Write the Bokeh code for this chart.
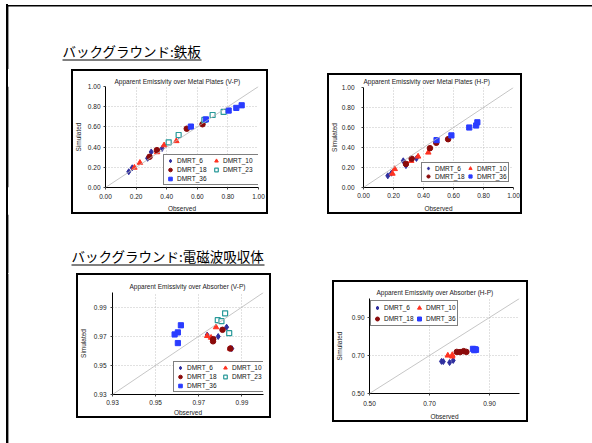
from bokeh.plotting import figure
from bokeh.layouts import row, column
from bokeh.models import (Range1d, FixedTicker, PrintfTickFormatter, Slope, Spacer,
                          Legend, LegendItem)
from bokeh.core.properties import value
from bokeh.embed import file_html
from bokeh.resources import INLINE

LATIN_FONT = "Liberation Sans"
CJK_FONT = "Noto Sans CJK JP"

heading_metal = "バックグラウンド:鉄板"
heading_absorber = "バックグラウンド:電磁波吸収体"

# ---------------- Metal plates, V-P ----------------
mvp_obs_6 = [0.152, 0.175, 0.275, 0.299, 0.370, 0.478]
mvp_sim_6 = [0.156, 0.195, 0.289, 0.352, 0.387, 0.516]
mvp_obs_10 = [0.189, 0.225, 0.337, 0.383, 0.463]
mvp_sim_10 = [0.197, 0.245, 0.350, 0.418, 0.460]
mvp_obs_18 = [0.288, 0.336, 0.531, 0.634]
mvp_sim_18 = [0.304, 0.370, 0.582, 0.626]
mvp_obs_23 = [0.413, 0.478, 0.646, 0.700, 0.772]
mvp_sim_23 = [0.447, 0.520, 0.669, 0.718, 0.748]
mvp_obs_36 = [0.558, 0.656, 0.805, 0.855, 0.890]
mvp_sim_36 = [0.603, 0.674, 0.762, 0.788, 0.814]

# ---------------- Metal plates, H-P ----------------
mhp_obs_6 = [0.162, 0.186, 0.265, 0.283, 0.353]
mhp_sim_6 = [0.117, 0.143, 0.267, 0.219, 0.291]
mhp_obs_10 = [0.193, 0.208, 0.318, 0.364, 0.432]
mhp_sim_10 = [0.139, 0.185, 0.267, 0.310, 0.350]
mhp_obs_18 = [0.283, 0.321, 0.443, 0.485, 0.564]
mhp_sim_18 = [0.236, 0.288, 0.393, 0.447, 0.483]
mhp_obs_36 = [0.487, 0.586, 0.705, 0.751, 0.759]
mhp_sim_36 = [0.474, 0.521, 0.600, 0.620, 0.652]

# ---------------- Absorber, V-P ----------------
avp_obs_6 = [0.9739, 0.9790, 0.9829, 0.9853]
avp_sim_6 = [0.9708, 0.9698, 0.9762, 0.9615]
avp_obs_10 = [0.9739, 0.9757, 0.9780, 0.9846]
avp_sim_10 = [0.9702, 0.9690, 0.9762, 0.9615]
avp_obs_18 = [0.9767, 0.9766, 0.9810, 0.9846]
avp_sim_18 = [0.9680, 0.9665, 0.9744, 0.9615]
avp_obs_23 = [0.9822, 0.9788, 0.9805, 0.9841]
avp_sim_23 = [0.9857, 0.9810, 0.9803, 0.9721]
avp_obs_36 = [0.9617, 0.9603, 0.9588, 0.9603]
avp_sim_36 = [0.9775, 0.9726, 0.9712, 0.9653]

# ---------------- Absorber, H-P ----------------
ahp_obs_6 = [0.740, 0.746, 0.767, 0.779]
ahp_sim_6 = [0.669, 0.668, 0.663, 0.674]
ahp_obs_10 = [0.761, 0.776, 0.776]
ahp_sim_10 = [0.700, 0.695, 0.703]
ahp_obs_18 = [0.791, 0.802, 0.814, 0.823]
ahp_sim_18 = [0.719, 0.718, 0.723, 0.719]
ahp_obs_36 = [0.845, 0.852, 0.849, 0.855]
ahp_sim_36 = [0.735, 0.733, 0.728, 0.730]

metal_ticks = [0.0, 0.2, 0.4, 0.6, 0.8, 1.0]
absorber_vp_ticks = [0.93, 0.95, 0.97, 0.99]
absorber_hp_ticks = [0.50, 0.70, 0.90]

SERIES_STYLE = {
    "DMRT_6": dict(marker="diamond", size=6, fill_color="#2f2f9f", line_color="#2f2f9f"),
    "DMRT_10": dict(marker="triangle", size=5.5, fill_color="#ff3322", line_color="#ff3322"),
    "DMRT_18": dict(marker="circle", size=5.5, fill_color="#8b0a0a", line_color="#8b0a0a"),
    "DMRT_23": dict(marker="square", size=5, fill_color="#ffffff", line_color="#2a9a9a",
                    line_width=1.2),
    "DMRT_36": dict(marker="square", size=5.2, fill_color="#2a3cff", line_color="#2a3cff"),
}

RULE_LEFT, RULE_RIGHT = 6.4, 7.9

# slide frame: a left rule painted behind the transparent figures
PAGE_STYLES = {
    "background-image": "linear-gradient(to right, transparent 6.4px, #000 6.4px, "
                        "#000 7.9px, transparent 7.9px)",
    "background-repeat": "no-repeat",
    "background-position": "0px 4.4px",
    "background-size": "100% 440px",
}


def blank(width, height):
    p = figure(width=width, height=height, x_range=Range1d(0, width),
               y_range=Range1d(height, 0), x_axis_type=None, y_axis_type=None,
               min_border=0, toolbar_location=None, output_backend="svg",
               outline_line_color=None, background_fill_color=None,
               border_fill_color=None)
    return p


def side_rule(width, height, top=0.0):
    p = blank(width, height)
    p.quad(left=[RULE_LEFT], right=[RULE_RIGHT], top=[top], bottom=[height],
           fill_color="black", line_color=None)
    return p


def heading_band(width, height, text, tx, ty, ux1, uy, top_rule=False):
    p = side_rule(width, height, top=4.4 if top_rule else 0.0)
    if top_rule:
        p.quad(left=[RULE_LEFT], right=[width], top=[4.4], bottom=[6.0],
               fill_color="black", line_color=None)
    p.text(x=[tx], y=[ty], text=[text], text_font=value(CJK_FONT), text_font_size="13.5px",
           text_color="black", text_baseline="alphabetic", text_align="left")
    p.segment(x0=[tx], y0=[uy], x1=[ux1], y1=[uy], line_color="black", line_width=1)
    return p


def chart(title, series, rng, ticks, width, height, borders, title_pos, x_std, y_std,
          legend_cfg):
    left, right, top, bottom = borders
    p = figure(width=width, height=height, x_range=Range1d(*rng), y_range=Range1d(*rng),
               toolbar_location=None, output_backend="svg",
               min_border_left=left, min_border_right=right,
               min_border_top=top, min_border_bottom=bottom,
               background_fill_color=None, border_fill_color=None,
               outline_line_color=None, title=title,
               styles={"outline": "2px solid black", "outline-offset": "-2px"})
    p.title.text_font = LATIN_FONT
    p.title.text_font_size = "6.5px"
    p.title.text_font_style = "normal"
    p.title.text_color = "#222222"
    p.title.align = "left"
    p.title.offset = title_pos[0]
    p.title.standoff = title_pos[1]

    for ax, (lab_std, ax_std), label in ((p.xaxis[0], x_std, "Observed"),
                                         (p.yaxis[0], y_std, "Simulated")):
        ax.ticker = FixedTicker(ticks=ticks)
        ax.formatter = PrintfTickFormatter(format="%.2f")
        ax.axis_label = label
        ax.axis_label_text_font = LATIN_FONT
        ax.axis_label_text_font_size = "6.5px"
        ax.axis_label_text_font_style = "normal"
        ax.axis_label_text_color = "#222222"
        ax.axis_label_standoff = ax_std
        ax.major_label_text_font = LATIN_FONT
        ax.major_label_text_font_size = "6.5px"
        ax.major_label_text_color = "#222222"
        ax.major_label_standoff = lab_std
        ax.major_tick_in = 0
        ax.major_tick_out = 2
        ax.minor_tick_in = 0
        ax.minor_tick_out = 0
        ax.axis_line_color = "black"
        ax.axis_line_width = 1
        ax.major_tick_line_color = "#444444"

    for g in (p.xgrid[0], p.ygrid[0]):
        g.ticker = FixedTicker(ticks=ticks)
        g.grid_line_color = "#b4b4b4"
        g.grid_line_dash = "1 2"
        g.grid_line_width = 0.8

    p.add_layout(Slope(gradient=1, y_intercept=0, line_color="#b8b8b8", line_width=0.8))

    items = []
    for name, xs, ys in series:
        r = p.scatter(x=xs, y=ys, **SERIES_STYLE[name])
        items.append(LegendItem(label=name, renderers=[r]))

    loc, label_h, label_w = legend_cfg
    legend = Legend(items=items, location=loc, orientation="horizontal", ncols=2,
                    padding=1, spacing=0, margin=0, label_standoff=2,
                    glyph_width=10, glyph_height=label_h, label_height=label_h,
                    label_width=label_w, label_text_font=LATIN_FONT,
                    label_text_font_size="6.5px", label_text_color="#111111",
                    border_line_color="black", border_line_width=1.5,
                    background_fill_color="white", background_fill_alpha=1)
    p.add_layout(legend)
    return p


c1 = chart("Apparent Emissivity over Metal Plates (V-P)",
           [("DMRT_6", mvp_obs_6, mvp_sim_6), ("DMRT_10", mvp_obs_10, mvp_sim_10),
            ("DMRT_18", mvp_obs_18, mvp_sim_18), ("DMRT_23", mvp_obs_23, mvp_sim_23),
            ("DMRT_36", mvp_obs_36, mvp_sim_36)],
           (0.0, 1.0), metal_ticks, 197, 145, (33, 10, 17, 26), (9, 4), (4, 3), (3, 3),
           ((58, 2), 9, 34))

c2 = chart("Apparent Emissivity over Metal Plates (H-P)",
           [("DMRT_6", mhp_obs_6, mhp_sim_6), ("DMRT_10", mhp_obs_10, mhp_sim_10),
            ("DMRT_18", mhp_obs_18, mhp_sim_18), ("DMRT_36", mhp_obs_36, mhp_sim_36)],
           (0.0, 1.0), metal_ticks, 195, 141, (34, 9, 14, 26), (0, 5), (3, 4), (7, 1),
           ((58, 5), 8, 30))

c3 = chart("Apparent Emissivity over Absorber (V-P)",
           [("DMRT_6", avp_obs_6, avp_sim_6), ("DMRT_10", avp_obs_10, avp_sim_10),
            ("DMRT_18", avp_obs_18, avp_sim_18), ("DMRT_23", avp_obs_23, avp_sim_23),
            ("DMRT_36", avp_obs_36, avp_sim_36)],
           (0.93, 1.0), absorber_vp_ticks, 195, 145, (32, 8, 19, 23), (17, 5), (3, 1), (4, 4),
           ((61, 2), 9, 33))

c4 = chart("Apparent Emissivity over Absorber (H-P)",
           [("DMRT_6", ahp_obs_6, ahp_sim_6), ("DMRT_10", ahp_obs_10, ahp_sim_10),
            ("DMRT_18", ahp_obs_18, ahp_sim_18), ("DMRT_36", ahp_obs_36, ahp_sim_36)],
           (0.5, 1.0), absorber_hp_ticks, 196, 142, (35, 9, 18, 29), (7, 6), (5, 4), (3, 6),
           ((1, 67), 11, 30))

band_a = heading_band(592, 69, heading_metal, 62, 50.5, 201, 59.5, top_rule=True)
band_b = row(side_rule(71, 145), c1, Spacer(width=59, height=145),
             column(Spacer(width=195, height=4), c2), Spacer(width=70, height=145))
band_c = heading_band(592, 59, heading_absorber, 71, 41, 264, 50.5)
band_d = row(side_rule(76, 170), column(c3, Spacer(width=195, height=25)),
             Spacer(width=61, height=170),
             column(Spacer(width=196, height=7), c4, Spacer(width=196, height=21)),
             Spacer(width=64, height=170))

page = column(band_a, band_b, band_c, band_d, styles=PAGE_STYLES)

open("out.html", "w").write(file_html(page, INLINE))
